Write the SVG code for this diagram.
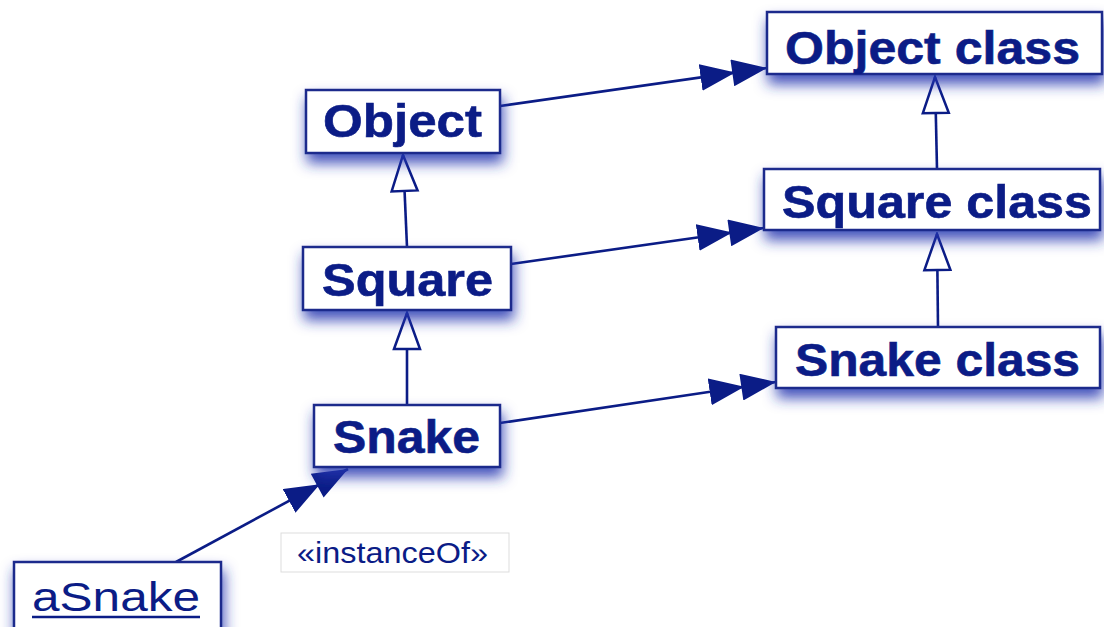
<svg xmlns="http://www.w3.org/2000/svg" width="1104" height="627" viewBox="0 0 1104 627">
<defs>
<style>
.box{fill:#fff;stroke:#1a2a8c;stroke-width:2.5;}
.lbl{font-family:"Liberation Sans",Arial,sans-serif;font-weight:bold;font-size:46px;fill:#0b1c86;text-anchor:middle;stroke:#0b1c86;stroke-width:0.6;}
.reg{font-family:"Liberation Sans",Arial,sans-serif;fill:#0b1c86;}
.con{fill:none;stroke:#0b1c86;stroke-width:2.6;}
.dep{marker-end:url(#dbl);}
.gen{marker-end:url(#tri);}
</style>
<filter id="sh" x="-20%" y="-50%" width="140%" height="220%">
<feGaussianBlur in="SourceAlpha" stdDeviation="7"/>
<feOffset dx="2" dy="9" result="b"/>
<feFlood flood-color="#2435b0" flood-opacity="0.85"/>
<feComposite in2="b" operator="in"/>
<feMerge><feMergeNode/><feMergeNode in="SourceGraphic"/></feMerge>
</filter>
<marker id="dbl" viewBox="0 0 67 27" refX="67" refY="13.5" markerWidth="67" markerHeight="27" markerUnits="userSpaceOnUse" orient="auto">
<path d="M0,0 L35,13.5 L0,27 Z M32,0 L67,13.5 L32,27 Z" fill="#0b1c86"/>
</marker>
<marker id="tri" viewBox="-2 -2 40 30" refX="36" refY="13" markerWidth="40" markerHeight="30" markerUnits="userSpaceOnUse" orient="auto">
<path d="M0,0 L36,13 L0,26 Z" fill="#fff" stroke="#0b1c86" stroke-width="2.5" stroke-linejoin="miter"/>
</marker>
</defs>
<rect width="1104" height="627" fill="#fff"/>
<g id="connectors">
<line class="con dep" x1="500" y1="106" x2="767" y2="68"/>
<line class="con dep" x1="511" y1="264" x2="764" y2="228"/>
<line class="con dep" x1="500" y1="423" x2="776" y2="382"/>
<line class="con dep" x1="176" y1="562" x2="348" y2="469"/>
<line class="con gen" x1="937" y1="169" x2="935" y2="77"/>
<line class="con gen" x1="938" y1="327" x2="937" y2="234"/>
<line class="con gen" x1="407" y1="247" x2="403" y2="155"/>
<line class="con gen" x1="407" y1="405" x2="407" y2="313"/>
</g>
<g id="object">
<rect class="box" filter="url(#sh)" x="306" y="90" width="194" height="63"/>
<text class="lbl" x="402.5" y="137" textLength="159" lengthAdjust="spacingAndGlyphs">Object</text>
</g>
<g id="square">
<rect class="box" filter="url(#sh)" x="303" y="247" width="208" height="63"/>
<text class="lbl" x="407.5" y="296" textLength="171" lengthAdjust="spacingAndGlyphs">Square</text>
</g>
<g id="snake">
<rect class="box" filter="url(#sh)" x="314" y="405" width="186" height="62"/>
<text class="lbl" x="406.5" y="453" textLength="147" lengthAdjust="spacingAndGlyphs">Snake</text>
</g>
<g id="object-class">
<rect class="box" filter="url(#sh)" x="767" y="12" width="335" height="62"/>
<text class="lbl" x="932.5" y="64" textLength="295" lengthAdjust="spacingAndGlyphs">Object class</text>
</g>
<g id="square-class">
<rect class="box" filter="url(#sh)" x="764" y="169" width="336" height="61"/>
<text class="lbl" x="937" y="218" textLength="310" lengthAdjust="spacingAndGlyphs">Square class</text>
</g>
<g id="snake-class">
<rect class="box" filter="url(#sh)" x="776" y="327" width="324" height="61"/>
<text class="lbl" x="937.5" y="376" textLength="285" lengthAdjust="spacingAndGlyphs">Snake class</text>
</g>
<g id="asnake">
<rect class="box" filter="url(#sh)" x="14" y="562" width="207" height="75"/>
<text class="reg" x="32" y="611" font-size="40" textLength="168" lengthAdjust="spacingAndGlyphs">aSnake</text>
<line x1="32" y1="617" x2="200" y2="617" stroke="#0b1c86" stroke-width="2.5"/>
</g>
<g id="instanceof-label">
<rect x="281" y="533" width="228" height="39" fill="#fff" stroke="#dddddd" stroke-width="1"/>
<text class="reg" x="297" y="563" font-size="29" textLength="191" lengthAdjust="spacingAndGlyphs">«instanceOf»</text>
</g>
</svg>
